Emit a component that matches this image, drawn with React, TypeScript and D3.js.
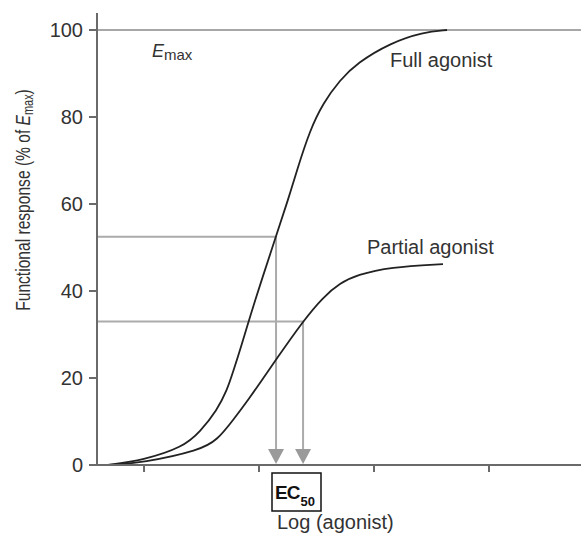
import React from "react";
import * as d3 from "d3";

// Log(agonist) in arbitrary units; response in % of Emax
const fullX = [0.687, 0.991, 1.339, 1.487, 1.635, 1.722, 1.774, 1.835, 1.965, 2.148, 2.252, 2.33, 2.443, 2.557, 2.704, 2.852, 3.139, 3.426, 3.635];
const fullY = [0, 1.1, 4.1, 7.6, 12.6, 17.2, 21.4, 26.4, 37.9, 52.6, 60.9, 67.8, 77.0, 83.2, 88.5, 92.4, 97.0, 99.5, 100];
const partialX = [0.687, 0.991, 1.487, 1.635, 1.774, 1.922, 2.026, 2.139, 2.383, 2.557, 2.704, 2.852, 3.139, 3.6];
const partialY = [0, 0.5, 3.4, 5.7, 10.3, 15.6, 19.5, 23.9, 33.1, 38.6, 41.8, 43.7, 45.5, 46.2];
const ec50X = [2.148, 2.383];
const ec50Y = [52.5, 33];
const yTicks = [0, 20, 40, 60, 80, 100];
const xTicks = [1, 2, 3, 4];
const xDomain = [0.591, 4.8];
const yDomain = [0, 100];

const FONT = "'Liberation Sans', Arial, Helvetica, sans-serif";

export default function App() {
  const W = 581, H = 533;
  const x = d3.scaleLinear().domain(xDomain).range([97, 581]);
  const y = d3.scaleLinear().domain(yDomain).range([465, 30]);
  const line = d3
    .line<[number, number]>()
    .x((d) => x(d[0]))
    .y((d) => y(d[1]))
    .curve(d3.curveBasis);
  const full = fullX.map((v, i) => [v, fullY[i]] as [number, number]);
  const partial = partialX.map((v, i) => [v, partialY[i]] as [number, number]);
  const y0 = y(0);
  const x0 = x(xDomain[0]);

  return (
    <svg width={W} height={H} style={{ position: "absolute", left: 0, top: 0, background: "#fff" }} fontFamily={FONT}>
      {/* Emax line */}
      <line x1={x0} x2={W} y1={y(100)} y2={y(100)} stroke="#8a8a8a" strokeWidth={1.5} />
      {/* EC50 guides */}
      {ec50X.map((ex, i) => (
        <g key={i}>
          <polyline
            points={`${x0},${y(ec50Y[i])} ${x(ex)},${y(ec50Y[i])} ${x(ex)},${y0 - 15}`}
            fill="none"
            stroke="#ababab"
            strokeWidth={2}
          />
          <polygon
            points={`${x(ex) - 8},${y0 - 16} ${x(ex) + 8},${y0 - 16} ${x(ex)},${y0 - 1}`}
            fill="#9a9a9a"
          />
        </g>
      ))}
      {/* curves */}
      <path d={line(full) || ""} fill="none" stroke="#222" strokeWidth={1.8} />
      <path d={line(partial) || ""} fill="none" stroke="#222" strokeWidth={1.8} />
      {/* axes */}
      <line x1={x0} x2={x0} y1={13} y2={y0 + 1} stroke="#6a6a6a" strokeWidth={2} />
      <line x1={x0 - 1} x2={W} y1={y0} y2={y0} stroke="#6a6a6a" strokeWidth={2} />
      {yTicks.map((t) => (
        <g key={t}>
          <line x1={x0 - 8} x2={x0} y1={y(t)} y2={y(t)} stroke="#6a6a6a" strokeWidth={2} />
          <text x={83} y={y(t) + 7} textAnchor="end" fontSize={20} fill="#333">
            {t}
          </text>
        </g>
      ))}
      {xTicks.map((t) => (
        <line key={t} x1={x(t)} x2={x(t)} y1={y0} y2={y0 + 7} stroke="#6a6a6a" strokeWidth={2} />
      ))}
      {/* labels */}
      <text x={152} y={57} fill="#333">
        <tspan fontSize={18} fontStyle="italic">E</tspan>
        <tspan fontSize={15} dy={3}>max</tspan>
      </text>
      <text x={390} y={67} fontSize={20} fill="#333">Full agonist</text>
      <text x={367} y={254} fontSize={20} fill="#333">Partial agonist</text>
      <text x={277} y={529} fontSize={20} fill="#333">Log (agonist)</text>
      <g transform="translate(30,200) rotate(-90) scale(0.78,1)">
        <text x={0} y={0} textAnchor="middle" fontSize={20} fill="#333">
          <tspan>Functional response (% of </tspan>
          <tspan fontStyle="italic">E</tspan>
          <tspan fontSize={14} dy={3}>max</tspan>
          <tspan dy={-3}>)</tspan>
        </text>
      </g>
      {/* EC50 box */}
      <rect x={272} y={473} width={49} height={38} fill="#fff" stroke="#111" strokeWidth={1.5} />
      <text x={275} y={499} fontWeight="bold" fill="#111">
        <tspan fontSize={19} letterSpacing={-1}>EC</tspan>
        <tspan fontSize={13} dx={1} dy={7}>50</tspan>
      </text>
    </svg>
  );
}
